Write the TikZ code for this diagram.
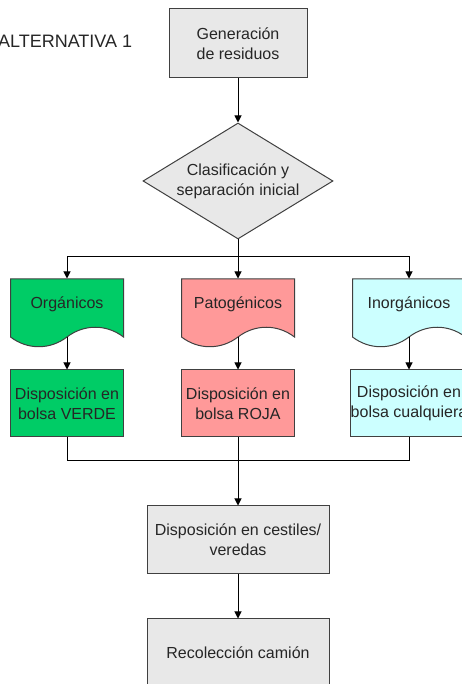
\documentclass[tikz,border=0pt]{standalone}
\usepackage{fontspec}
\setmainfont{Liberation Sans}
\usepackage{xcolor}
\usepackage{tikz}
\usetikzlibrary{arrows.meta,calc,shapes.geometric}
\definecolor{borde}{HTML}{404040}
\definecolor{gris}{HTML}{E8E8E8}
\definecolor{verde}{HTML}{00CC66}
\definecolor{rosa}{HTML}{FF9999}
\definecolor{celeste}{HTML}{CCFFFF}
\definecolor{texto}{HTML}{262626}

\begin{document}
\begin{tikzpicture}[x=1pt,y=1pt,line width=1pt,
    letra/.style={font=\fontsize{16}{20}\selectfont,text=texto,align=center},
    caja/.style={letra,rectangle,draw=borde,inner sep=0pt},
    hoja/.style={letra,rectangle,inner sep=0pt,minimum width=113pt,minimum height=58pt,text height=12pt,text depth=10.5pt},
    flecha/.style={draw=black,-{Triangle[length=7pt,width=7pt]}}]
  \path[use as bounding box,clip] (0,0) rectangle (462,684);
  \node[anchor=base east,font=\fontsize{18}{20}\selectfont,text=texto] (titulo) at (136,636) {ALTERNATIVA 1};

  \node[caja,fill=gris,minimum width=138pt,minimum height=69pt] (gen) at (238,640.5) {Generación\\de residuos};
  \node[caja,fill=gris,shape=diamond,aspect=1.64,minimum width=190pt,minimum height=116pt] (clas) at (238,503) {Clasificación y\\separación inicial};

  % hojas con borde ondulado
  \foreach \x/\c in {67/verde,238/rosa,409/celeste}
    \draw[fill=\c,draw=borde,shift={(\x,376)}] (-56.5,29) -- (56.5,29) -- (56.5,-29)
      .. controls (39.5,-16) and (17,-16) .. (0,-29)
      .. controls (-17,-42) and (-39.5,-42) .. (-56.5,-29) -- cycle;
  \node[hoja] (org) at (67,376) {Orgánicos};
  \node[hoja] (pat) at (238,376) {Patogénicos};
  \node[hoja] (ino) at (409,376) {Inorgánicos};

  \node[caja,fill=verde,minimum width=113pt,minimum height=67pt] (bv) at (67,280.5) {Disposición en\\bolsa VERDE};
  \node[caja,fill=rosa,minimum width=113pt,minimum height=67pt] (br) at (238,280.5) {Disposición en\\bolsa ROJA};
  \node[caja,fill=celeste,minimum width=113pt,minimum height=67pt] (bc) at (409,280.5) {Disposición en\\bolsa cualquiera};

  \node[caja,fill=gris,minimum width=182pt,minimum height=68pt] (cest) at (238,144) {Disposición en cestiles/\\veredas};
  \node[caja,fill=gris,minimum width=182pt,minimum height=68pt] (rec) at (238,31) {Recolección camión};

  \coordinate (ramal) at (238,427);
  \coordinate (union) at (238,223);

  \draw[flecha] (gen) -- (clas);
  \draw[flecha] (clas.south) -- (pat.north);
  \draw[flecha] (ramal) -| (org.north);
  \draw[flecha] (ramal) -| (ino.north);
  \draw[flecha] (org.south) -- (bv);
  \draw[flecha] (pat.south) -- (br);
  \draw[flecha] (ino.south) -- (bc);
  \draw (bv.south) |- (union);
  \draw (bc.south) |- (union);
  \draw[flecha] (br.south) -- (cest);
  \draw[flecha] (cest) -- (rec);
\end{tikzpicture}
\end{document}
